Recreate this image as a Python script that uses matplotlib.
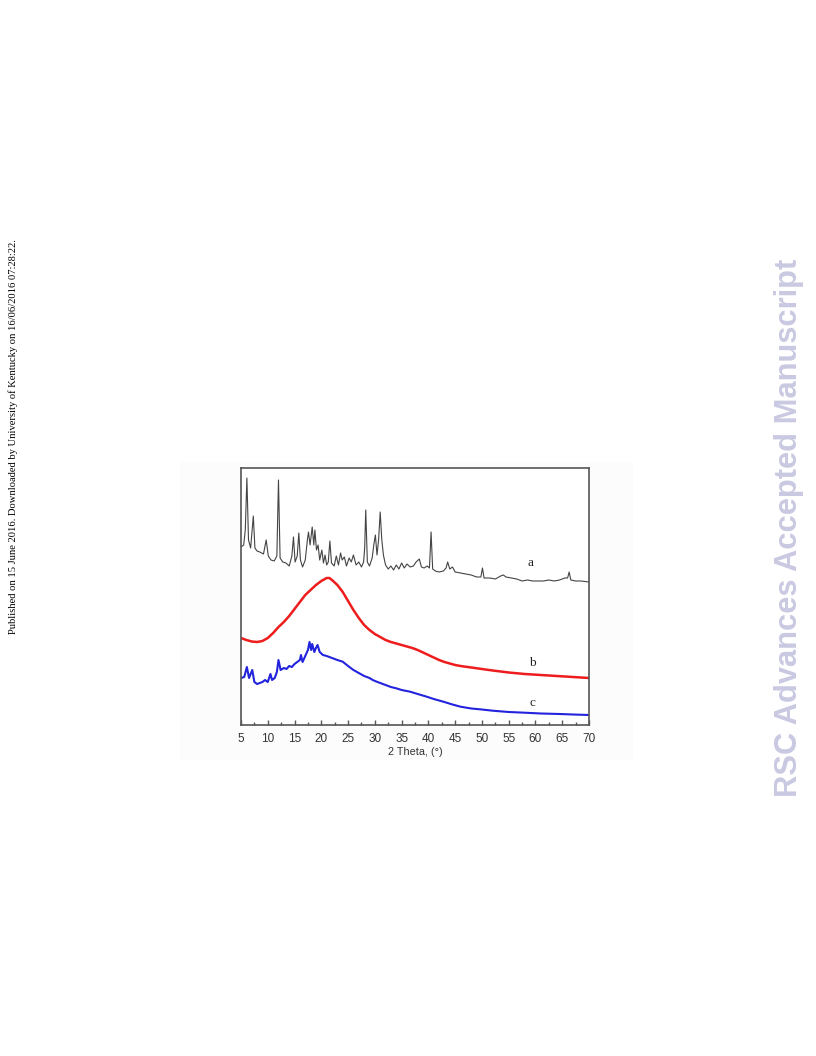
import matplotlib
matplotlib.use("Agg")
import matplotlib.pyplot as plt
from matplotlib.patches import Rectangle
from matplotlib.ticker import MultipleLocator

# Reference frame: intensity in arbitrary units (0 = bottom of plot, 257 = top)
BASE = 725

theta_a = [5.0, 5.5, 5.8, 6.1, 6.4, 6.8, 7.3, 7.6, 8.0, 8.5, 9.2, 9.7, 10.1, 10.6, 11.2, 11.7, 12.0, 12.3,
           12.8, 13.4, 14.0, 14.5, 14.8, 15.1, 15.5, 15.8, 16.1, 16.5, 17.0, 17.4, 17.6, 17.9, 18.3, 18.6,
           18.8, 19.1, 19.4, 19.7, 20.1, 20.4, 20.7, 21.0, 21.3, 21.6, 21.9, 22.4, 22.8, 23.2, 23.6, 23.9,
           24.3, 24.7, 25.2, 25.6, 26.0, 26.5, 27.0, 27.5, 27.9, 28.1, 28.3, 28.6, 29.0, 29.5, 29.8, 30.1,
           30.4, 30.7, 31.0, 31.3, 31.6, 32.0, 32.5, 33.0, 33.5, 34.0, 34.5, 35.0, 35.5, 36.0, 36.6, 37.2,
           37.7, 38.3, 38.7, 39.2, 39.8, 40.2, 40.5, 40.8, 41.3, 42.0, 42.8, 43.3, 43.6, 44.0, 44.5, 45.0,
           46.0, 47.0, 48.0, 49.0, 49.8, 50.1, 50.4, 51.5, 52.5, 53.5, 54.0, 54.5, 55.5, 56.5, 57.5, 58.5,
           59.5, 60.5, 61.5, 62.5, 63.5, 64.5, 65.5, 66.0, 66.3, 66.6, 67.5, 68.5, 70.0]
pix_a = [547, 545, 530, 478, 540, 548, 516, 548, 551, 552, 554, 540, 556, 560, 561, 556, 480, 558,
         562, 563, 566, 556, 537, 562, 556, 533, 560, 567, 560, 540, 532, 545, 527, 545,
         530, 550, 545, 560, 550, 563, 555, 565, 562, 541, 563, 566, 556, 565, 553, 560,
         557, 566, 558, 562, 555, 565, 562, 567, 562, 548, 510, 562, 566, 558, 545, 535,
         555, 540, 512, 540, 555, 565, 569, 566, 570, 565, 569, 563, 568, 564, 567, 566,
         562, 559, 567, 568, 566, 568, 532, 569, 571, 572, 571, 568, 562, 569, 567, 572,
         573, 574, 575, 577, 577, 568, 578, 578, 579, 576, 575, 577, 578, 579, 581, 580,
         581, 581, 581, 580, 581, 580, 578, 578, 572, 580, 581, 581, 582]

theta_b = [5.0, 6.0, 7.0, 8.0, 9.0, 10.0, 11.0, 12.0, 13.0, 14.0, 15.0, 16.0, 17.0, 18.0, 19.0, 20.0,
           21.0, 21.5, 22.0, 23.0, 24.0, 25.0, 26.0, 27.0, 28.0, 29.0, 30.0, 31.0, 32.0, 33.0, 34.0,
           35.0, 36.0, 37.0, 38.0, 39.0, 40.0, 41.0, 42.0, 43.0, 44.0, 45.0, 46.0, 48.0, 50.0, 52.0,
           55.0, 58.0, 61.0, 64.0, 67.0, 70.0]
pix_b = [638, 640, 641.5, 642, 641, 638, 633, 627, 622, 616, 609, 602, 595, 590, 585, 581,
         578, 578, 580, 585, 592, 601, 610, 618, 625, 630, 634, 637, 640, 642, 643.5,
         645, 646.5, 648, 650, 652.5, 655, 657.5, 660, 662, 663.5, 665, 666, 667.5, 669, 670.5,
         672.5, 674, 675, 676, 677, 678]

theta_c = [5.0, 5.6, 6.1, 6.5, 7.1, 7.5, 8.0, 8.5, 9.0, 9.5, 10.0, 10.5, 10.8, 11.3, 11.7, 12.0, 12.4,
           13.0, 13.5, 14.0, 14.5, 15.0, 15.5, 16.0, 16.2, 16.5, 17.0, 17.5, 17.8, 18.1, 18.3, 18.7,
           19.0, 19.3, 19.7, 20.3, 21.0, 22.0, 23.0, 24.0, 25.0, 26.0, 27.0, 28.0, 29.0, 29.6, 30.5,
           31.5, 33.0, 34.0, 35.0, 36.6, 38.0, 39.7, 41.0, 42.8, 44.5, 46.0, 48.0, 50.0, 52.0, 55.0,
           58.0, 61.0, 64.5, 67.0, 70.0]
pix_c = [678, 677, 667, 678, 670, 682, 684, 683, 682, 680, 682, 674, 680, 678, 672, 660, 670,
         668, 669, 666, 667, 664, 662, 660, 655, 662, 656, 650, 642, 650, 644, 652,
         648, 645, 652, 655, 656, 658, 660, 661.7, 666, 670, 673, 676, 678, 680, 682,
         684, 687, 688.3, 690, 691.7, 694, 696.7, 699, 701.7, 704.5, 706.7, 708.5, 709.5, 710.7, 712,
         712.7, 713.5, 714, 714.5, 715]

int_a = [BASE - p for p in pix_a]
int_b = [BASE - p for p in pix_b]
int_c = [BASE - p for p in pix_c]

xticks = [5, 10, 15, 20, 25, 30, 35, 40, 45, 50, 55, 60, 65, 70]

fig = plt.figure(figsize=(8.16, 10.56), dpi=100)
bg = Rectangle((180 / 816, 1 - 760 / 1056), (633 - 180) / 816, (760 - 462) / 1056,
               transform=fig.transFigure, facecolor="#fcfcfc", edgecolor="none", zorder=-10)
fig.patches.append(bg)

ax = fig.add_axes([241 / 816, 1 - 725 / 1056, 348 / 816, 257 / 1056])
ax.set_zorder(5)
ax.set_facecolor("white")
ax.plot(theta_a, int_a, color="#444444", lw=0.8)
ax.plot(theta_b, int_b, color="#ee1c1c", lw=1.8)
ax.plot(theta_c, int_c, color="#2323dd", lw=1.5)

ax.set_xlim(5, 70)
ax.set_ylim(0, 257)
ax.set_xticks(xticks)
ax.set_xticklabels([str(t) for t in xticks], fontsize=8.5, family="Liberation Sans", color="#333333")
ax.xaxis.set_minor_locator(MultipleLocator(2.5))
ax.tick_params(axis="x", which="major", direction="in", length=3.5, width=1.0, color="#555555", pad=6)
ax.tick_params(axis="x", which="minor", direction="in", length=2, width=1.0, color="#555555")
ax.set_yticks([])
for s in ax.spines.values():
    s.set_color("#555555")
    s.set_linewidth(1.2)
ax.set_xlabel("2 Theta, (°)", fontsize=7.8, family="Liberation Sans", color="#333333", labelpad=1)

ax.text(59.0, BASE - 563, "a", fontsize=9.5, family="Liberation Serif", ha="center", va="center", color="#222222")
ax.text(59.5, BASE - 663, "b", fontsize=9.5, family="Liberation Serif", ha="center", va="center", color="#222222")
ax.text(59.5, BASE - 703, "c", fontsize=9.5, family="Liberation Serif", ha="center", va="center", color="#222222")

fig.text(13 / 816, 1 - 437 / 1056,
         "Published on 15 June 2016. Downloaded by University of Kentucky on 16/06/2016 07:28:22.",
         rotation=90, fontsize=7.6, family="Liberation Serif", ha="center", va="center", color="black")
fig.text(789 / 816, 1 - 528 / 1056, "RSC Advances Accepted Manuscript", rotation=90, fontsize=22.2,
         family="Liberation Sans", fontweight="bold", ha="center", va="center", color="#c9c9e2")

fig.savefig("out.png", dpi=100)
